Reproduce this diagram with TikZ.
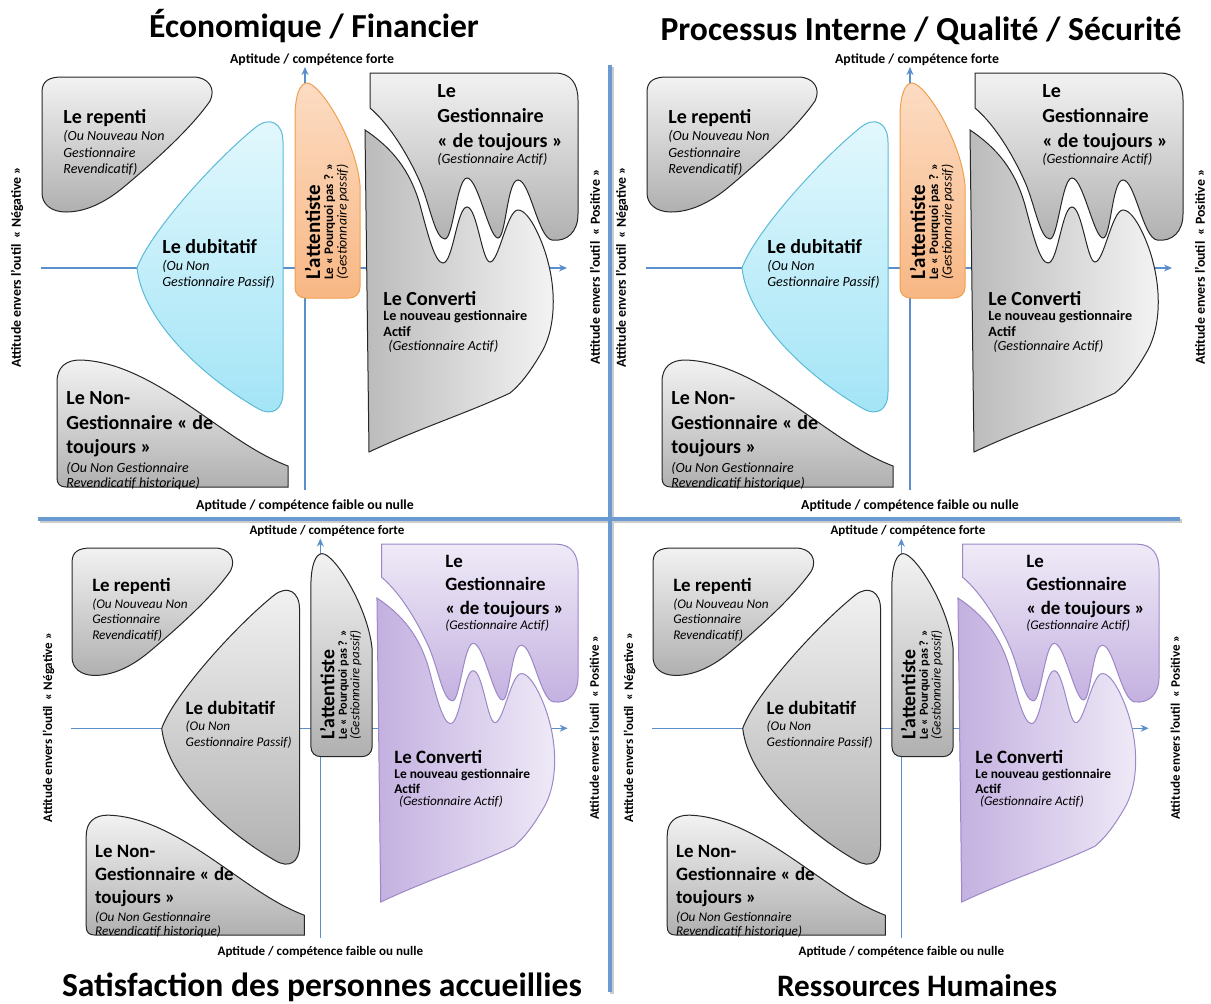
\documentclass[tikz,border=0pt]{standalone}
\usepackage{fontspec}
\setmainfont{Carlito}
\usepackage{xcolor}
\usetikzlibrary{arrows.meta}
\definecolor{graytop}{HTML}{F2F2F2}
\definecolor{graybot}{HTML}{B0B0B0}
\definecolor{grayleft}{HTML}{BBBBBB}
\definecolor{grayright}{HTML}{F4F4F4}
\definecolor{cyantop}{HTML}{E3F8FD}
\definecolor{cyanbot}{HTML}{A2E4F6}
\definecolor{cyanedge}{HTML}{5BBAD5}
\definecolor{orangetop}{HTML}{FCDCC3}
\definecolor{orangebot}{HTML}{F8B784}
\definecolor{orangeedge}{HTML}{F0A04E}
\definecolor{purpletop}{HTML}{EFEAF7}
\definecolor{purplebot}{HTML}{C3B0E0}
\definecolor{purpleedge}{HTML}{9C88C6}
\definecolor{axisblue}{HTML}{5B8FCB}
\definecolor{sepblue}{HTML}{6A9AD2}

\begin{document}
\begin{tikzpicture}[x=0.5pt, y=-0.5pt,
  shp/.style={draw=black!85, line width=0.5pt},
  rep/.style={shp, top color=graytop, bottom color=graybot},
  dub-blu/.style={shp, draw=cyanedge, top color=cyantop, bottom color=cyanbot},
  dub-gry/.style={shp, top color=graytop, bottom color=graybot},
  att-blu/.style={shp, draw=orangeedge, top color=orangetop, bottom color=orangebot},
  att-gry/.style={shp, top color=graytop, bottom color=graybot},
  ges-gry/.style={shp, top color=graytop, bottom color=graybot},
  con-gry/.style={shp, left color=grayleft, right color=grayright},
  ges-pur/.style={shp, draw=purpleedge, top color=purpletop, bottom color=purplebot},
  con-pur/.style={shp, draw=purpleedge, left color=purplebot, right color=purpletop},
  axis/.style={axisblue, line width=0.8pt, -{Stealth[length=4pt, width=3.5pt]}},
  sepline/.style={sepblue, line width=2pt},
  big/.style={font=\fontsize{10}{12.5}\selectfont\bfseries, inner sep=0},
  ita/.style={font=\fontsize{7}{8.25}\selectfont\itshape, inner sep=0},
  lbl/.style={font=\fontsize{6.9}{8}\selectfont\bfseries, inner sep=0},
  head/.style={font=\fontsize{16.8}{20}\selectfont\bfseries, inner sep=0, anchor=base}
]
\useasboundingbox (0,0) rectangle (1211,1003);

% quadrant separators
\coordinate (hl) at (38,519);
\coordinate (hr) at (1180,519);
\coordinate (vt) at (610,65);
\coordinate (vb) at (610,992);
\draw[line width=2pt, black!20] ([shift={(1.5,2)}]hl) -- ([shift={(1.5,2)}]hr);
\draw[line width=2pt, black!20] ([shift={(2,1.5)}]vt) -- ([shift={(2,1.5)}]vb);
\draw[sepline] (hl) -- (hr);
\draw[sepline] (vt) -- (vb);

% titles
\node[head] (t1) at (314,37) {Économique / Financier};
\node[head] (t2) at (921,40) {Processus Interne / Qualité / Sécurité};
\node[head] (t3) at (322,996) {Satisfaction des personnes accueillies};
\node[head, font=\fontsize{15.6}{19}\selectfont\bfseries] (t4) at (917,996) {Ressources Humaines};

% the four quadrants
\foreach \q/\dx/\dy/\s/\pa/\pb in {a/0/0/1/blu/gry, b/605/0/1/blu/gry, c/32.4/475.3/0.944/gry/pur, d/613.4/475.3/0.944/gry/pur}{
\begin{scope}[shift={(\dx,\dy)}, scale=\s, transform shape]
  % axes
  \coordinate (\q-w) at (41,268);
  \coordinate (\q-e) at (567,268);
  \coordinate (\q-s) at (305,490);
  \coordinate (\q-n) at (305,67);
  \draw[axis] (\q-w) -- (\q-e);
  \draw[axis] (\q-s) -- (\q-n);

  % shapes
  \path[rep] (42,193) -- (42,92) .. controls (42,81) and (49,77) .. (62,77) -- (193,77)
    .. controls (209,77) and (216,89) .. (210,101) .. controls (190,130) and (150,165) .. (125,186)
    .. controls (105,203) and (85,212) .. (66,212) .. controls (51,212) and (42,204) .. (42,193) -- cycle;
  \path[dub-\pa] (137,268) .. controls (150,232) and (215,160) .. (256,127)
    .. controls (270,116) and (283,123) .. (283,142) -- (283,392)
    .. controls (283,410) and (272,417) .. (257,408) .. controls (205,378) and (143,322) .. (137,268) -- cycle;
  \path[rep] (57,478) -- (57,382) .. controls (57,367) and (66,360) .. (80,360)
    .. controls (125,361) and (170,392) .. (210,420) .. controls (240,441) and (262,456) .. (288,466)
    -- (288,487) -- (66,487) .. controls (60,487) and (57,484) .. (57,478) -- cycle;
  \path[att-\pa] (295,118) .. controls (295,95) and (300,83) .. (307,83)
    .. controls (320,83) and (356,140) .. (360,185) -- (360,287)
    .. controls (360,294) and (355,298) .. (349,298) -- (306,298)
    .. controls (299,298) and (295,294) .. (295,287) -- cycle;
  \path[ges-\pb] (370,73) -- (555,73) .. controls (571,73) and (578,84) .. (578,100) -- (578,214)
    .. controls (578,232) and (567,242) .. (552,240) .. controls (538,238) and (530,180) .. (518,180)
    .. controls (507,180) and (506,238) .. (498,238) .. controls (489,238) and (478,178) .. (467,178)
    .. controls (457,178) and (453,239) .. (445,239) .. controls (435,239) and (430,205) .. (420,182)
    .. controls (408,155) and (390,125) .. (370,108) -- cycle;
  \path[con-\pb] (365,130) .. controls (392,148) and (410,170) .. (420,205)
    .. controls (428,235) and (435,263) .. (443,263) .. controls (453,263) and (457,207) .. (467,207)
    .. controls (477,207) and (482,262) .. (490,262) .. controls (499,262) and (507,210) .. (518,210)
    .. controls (530,210) and (544,245) .. (548,262) .. controls (556,292) and (556,330) .. (540,355)
    .. controls (530,372) and (520,385) .. (510,393) .. controls (470,412) and (420,428) .. (369,452) -- cycle;

  % texts
  \node[big, anchor=base west] (\q-r1) at (63,123) {Le repenti};
  \node[ita, anchor=north west, align=left] (\q-r2) at (63,129) {\strut(Ou Nouveau Non\\Gestionnaire\\Revendicatif)};
  \node[big, anchor=base west] (\q-d1) at (162,253) {Le dubitatif};
  \node[ita, anchor=north west, align=left] (\q-d2) at (162,258.5) {\strut(Ou Non\\Gestionnaire Passif)};
  \node[big, anchor=north west, align=left, font=\fontsize{10}{12.25}\selectfont\bfseries] (\q-n1) at (66,387) {\strut Le Non-\\Gestionnaire « de\\toujours »};
  \node[ita, anchor=north west, align=left, font=\fontsize{7}{7.75}\selectfont\itshape] (\q-n2) at (66,461) {\strut(Ou Non Gestionnaire\\Revendicatif historique)};
  \node[big, rotate=90, anchor=base west, font=\fontsize{10.5}{12.5}\selectfont\bfseries] (\q-t1) at (320,280) {L’attentiste};
  \node[inner sep=0, rotate=90, anchor=base west, font=\fontsize{6.5}{7.5}\selectfont\bfseries] (\q-t2) at (333,280) {Le « Pourquoi pas ? »};
  \node[inner sep=0, rotate=90, anchor=base west, font=\fontsize{6.9}{8}\selectfont\itshape] (\q-t3) at (346.5,280) {(Gestionnaire passif)};
  \node[big, anchor=north west, align=left] (\q-g1) at (437,79.5) {\strut Le\\Gestionnaire\\« de toujours »};
  \node[ita, anchor=base west] (\q-g2) at (437,163) {(Gestionnaire Actif)};
  \node[big, anchor=base west] (\q-c1) at (383,305) {Le Converti};
  \node[inner sep=0, anchor=north west, align=left, font=\fontsize{7.1}{6.6}\selectfont\bfseries] (\q-c2) at (383,310.5) {\strut Le nouveau gestionnaire\\Actif};
  \node[ita, anchor=base west] (\q-c3) at (388,350) {(Gestionnaire Actif)};

  % axis labels
  \node[lbl, anchor=base] (\q-top) at (312,63) {Aptitude / compétence forte};
  \node[lbl, anchor=base] (\q-bot) at (305,509) {Aptitude / compétence faible ou nulle};
  \node[lbl, rotate=90] (\q-neg) at (17,267) {Attitude envers l’outil ~« Négative »};
  \node[lbl, rotate=90] (\q-pos) at (595,267) {Attitude envers l’outil ~« Positive »};
\end{scope}
}
\end{tikzpicture}
\end{document}
